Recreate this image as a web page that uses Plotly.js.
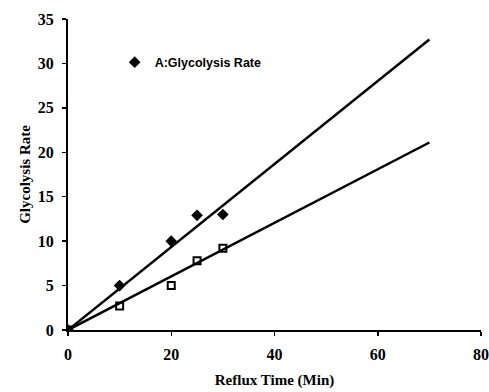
<!DOCTYPE html>
<html>
<head>
<script src="https://cdn.plot.ly/plotly-3.0.1.min.js"></script>
<style>html,body{margin:0;padding:0;background:#fff;}#chart{width:489px;height:392px;}</style>
</head>
<body>
<div id="chart"></div>
<script>
// Series A (filled diamonds)
const timeA = [0, 10, 20, 25, 30];
const rateA = [0, 5.0, 10.0, 12.9, 13.0];
// Series B (open squares)
const timeB = [0, 10, 20, 25, 30];
const rateB = [0, 2.7, 5.0, 7.8, 9.2];
// Fitted lines
const fitX = [0, 70];
const fitA = [0, 32.7];
const fitB = [0, 21.1];
const legendName = "A:Glycolysis Rate";

const traces = [
  {x: fitX, y: fitA, mode: 'lines', line: {color: '#000', width: 2.5}, showlegend: false, hoverinfo: 'skip'},
  {x: fitX, y: fitB, mode: 'lines', line: {color: '#000', width: 2.5}, showlegend: false, hoverinfo: 'skip'},
  {x: timeA, y: rateA, mode: 'markers', name: legendName,
   marker: {symbol: 'diamond', size: 9, color: '#000'}},
  {x: timeB, y: rateB, mode: 'markers', showlegend: false,
   marker: {symbol: 'square-open', size: 7, color: '#000', line: {width: 2, color: '#000'}}}
];

const serif = 'Liberation Serif';
const tickFont = {family: serif, size: 16, color: '#000', weight: 'bold'};
const layout = {
  width: 489, height: 392,
  margin: {l: 68, r: 8, t: 19, b: 62},
  paper_bgcolor: '#fff', plot_bgcolor: '#fff',
  showlegend: true,
  legend: {x: 0.113, y: 0.86, xanchor: 'left', yanchor: 'middle', bgcolor: 'rgba(0,0,0,0)',
           font: {family: 'Liberation Sans', size: 12.5, color: '#000', weight: 'bold'}},
  xaxis: {range: [0, 80], dtick: 20, showgrid: false, zeroline: false, showline: true,
          linecolor: '#000', linewidth: 2, ticks: 'outside', ticklen: 4, tickwidth: 1.5, tickcolor: '#000',
          tickfont: tickFont, ticklabelstandoff: 5,
          title: {text: 'Reflux Time (Min)', standoff: 12,
                  font: {family: serif, size: 15, color: '#000', weight: 'bold'}}},
  yaxis: {range: [0, 35], dtick: 5, showgrid: false, zeroline: false, showline: true,
          linecolor: '#000', linewidth: 2, ticks: 'outside', ticklen: 4, tickwidth: 1.5, tickcolor: '#000',
          tickfont: tickFont, ticklabelstandoff: 5,
          title: {text: 'Glycolysis Rate', standoff: 4,
                  font: {family: serif, size: 15, color: '#000', weight: 'bold'}}}
};
Plotly.newPlot('chart', traces, layout, {displayModeBar: false, staticPlot: true});
</script>
</body>
</html>
